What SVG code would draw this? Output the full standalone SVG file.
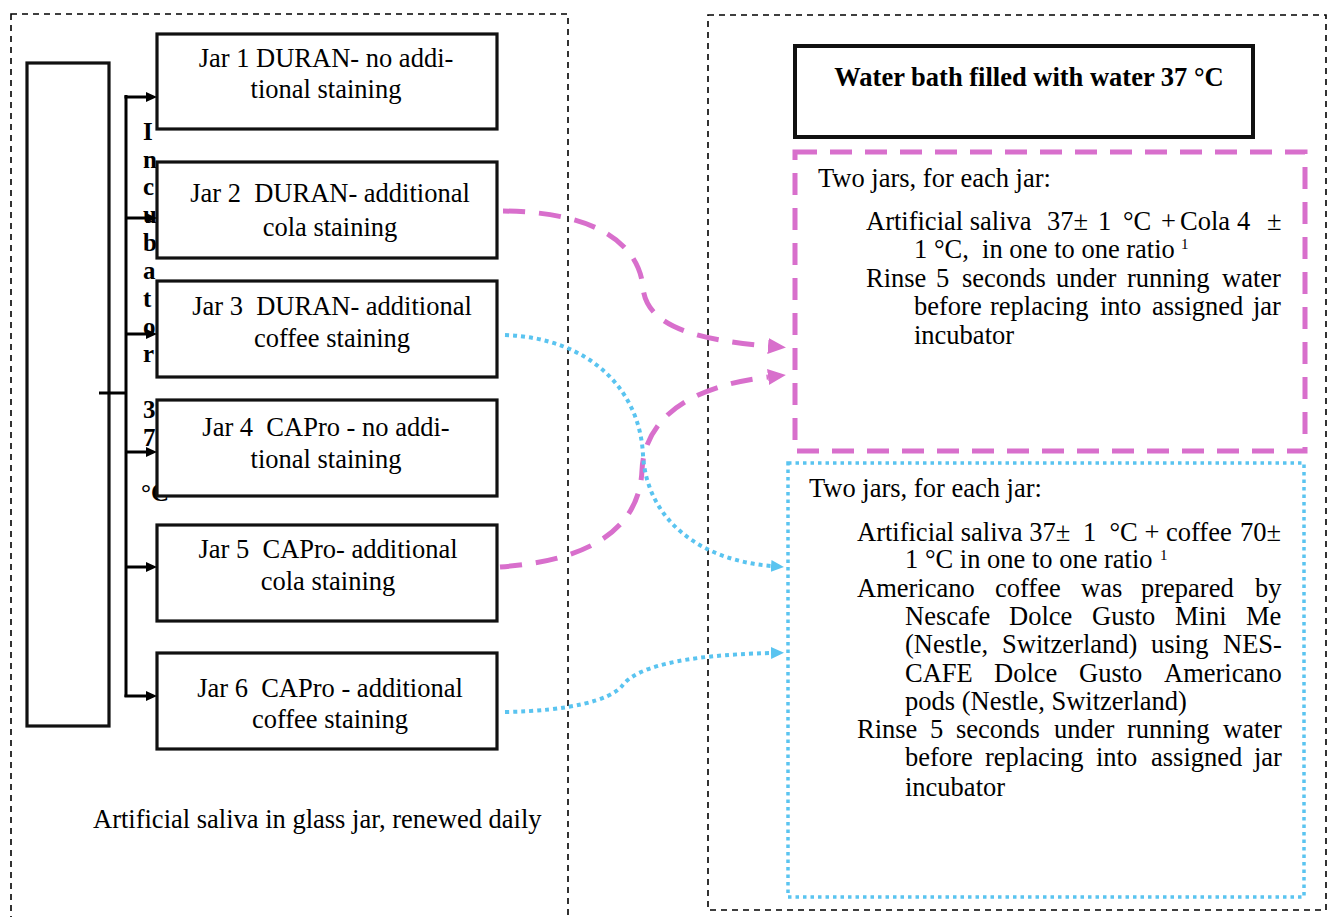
<svg xmlns="http://www.w3.org/2000/svg" width="1328" height="917" viewBox="0 0 1328 917">
<style>
.t{font-family:"Liberation Serif","Times New Roman",serif;font-size:26.5px;fill:#000;white-space:pre}
.b{font-weight:bold}
.c{text-anchor:middle}
.sup{font-size:15px}
.outer{fill:none;stroke:#000;stroke-width:1.6;stroke-dasharray:6 5}
.box{fill:#fff;stroke:#111;stroke-width:3.2}
.pink{fill:none;stroke:#d86fcc;stroke-width:5;stroke-dasharray:22 14}
.blue{fill:none;stroke:#5ac4f0;stroke-width:4;stroke-dasharray:4 4}
.br{fill:none;stroke:#000;stroke-width:3}
</style>
<defs>
<marker id="ak" markerWidth="11" markerHeight="10" refX="0" refY="5" orient="auto" markerUnits="userSpaceOnUse"><path d="M0,0 L11,5 L0,10 z" fill="#000"/></marker>
<marker id="ap" markerWidth="18" markerHeight="18" refX="0" refY="9" orient="auto" markerUnits="userSpaceOnUse"><path d="M0,1 L18,9 L0,17 z" fill="#d86fcc"/></marker>
<marker id="ab" markerWidth="13" markerHeight="12" refX="0" refY="6" orient="auto" markerUnits="userSpaceOnUse"><path d="M0,0 L13,6 L0,12 z" fill="#5ac4f0"/></marker>
</defs>
<rect width="1328" height="917" fill="#fff"/>

<g id="incubator-area">
<rect class="outer" x="11" y="14" width="557" height="920"/>
<text class="t" x="93" y="828">Artificial saliva in glass jar, renewed daily</text>
</g>

<g id="water-bath-area">
<rect class="outer" x="708" y="15" width="618" height="895"/>
</g>

<g id="incubator">
<rect x="27" y="63" width="82" height="663" fill="none" stroke="#111" stroke-width="3.2"/>
<text class="t b" style="font-size:25px">
<tspan x="143" y="140">I</tspan><tspan x="143" y="168">n</tspan><tspan x="143" y="195">c</tspan><tspan x="143" y="223">u</tspan><tspan x="143" y="251">b</tspan><tspan x="143" y="279">a</tspan><tspan x="143" y="307">t</tspan><tspan x="143" y="335">o</tspan><tspan x="143" y="362">r</tspan><tspan x="143" y="418">3</tspan><tspan x="143" y="446">7</tspan><tspan x="141" y="501">°C</tspan>
</text>
</g>

<g id="jar1">
<rect class="box" x="157" y="34" width="340" height="95"/>
<text class="t c" x="326" y="67">Jar 1 DURAN- no addi-</text>
<text class="t c" x="326" y="98">tional staining</text>
</g>
<g id="jar2">
<rect class="box" x="157" y="162" width="340" height="96"/>
<text class="t c" x="330" y="202">Jar 2  DURAN- additional</text>
<text class="t c" x="330" y="236">cola staining</text>
</g>
<g id="jar3">
<rect class="box" x="157" y="281" width="340" height="96"/>
<text class="t c" x="332" y="315">Jar 3  DURAN- additional</text>
<text class="t c" x="332" y="347">coffee staining</text>
</g>
<g id="jar4">
<rect class="box" x="157" y="400" width="340" height="96"/>
<text class="t c" x="326" y="436">Jar 4  CAPro - no addi-</text>
<text class="t c" x="326" y="468">tional staining</text>
</g>
<g id="jar5">
<rect class="box" x="157" y="525" width="340" height="96"/>
<text class="t c" x="328" y="558">Jar 5  CAPro- additional</text>
<text class="t c" x="328" y="590">cola staining</text>
</g>
<g id="jar6">
<rect class="box" x="157" y="653" width="340" height="96"/>
<text class="t c" x="330" y="697">Jar 6  CAPro - additional</text>
<text class="t c" x="330" y="728">coffee staining</text>
</g>

<g id="water-bath">
<rect x="795" y="46" width="458" height="91" fill="#fff" stroke="#111" stroke-width="4"/>
<text class="t b c" x="1029" y="86">Water bath filled with water 37 °C</text>
</g>

<g id="cola-group">
<rect x="795" y="152" width="510" height="299" fill="none" stroke="#d86fcc" stroke-width="5" stroke-dasharray="22 13"/>
<text class="t" x="818" y="187">Two jars, for each jar:</text>
<text class="t" y="230"><tspan x="866">Artificial saliva</tspan><tspan x="1047">37±</tspan><tspan x="1098">1</tspan><tspan x="1123">°C</tspan><tspan x="1161">+</tspan><tspan x="1180">Cola</tspan><tspan x="1237">4</tspan><tspan x="1267">±</tspan></text>
<text class="t" x="914" y="258">1 °C,  in one to one ratio</text>
<text class="t sup" x="1181" y="249">1</text>
<text class="t" y="287"><tspan x="866">Rinse</tspan><tspan x="936">5</tspan><tspan x="962">seconds</tspan><tspan x="1056">under</tspan><tspan x="1127">running</tspan><tspan x="1222">water</tspan></text>
<text class="t" y="315"><tspan x="914">before</tspan><tspan x="990">replacing</tspan><tspan x="1100">into</tspan><tspan x="1152">assigned</tspan><tspan x="1253">jar</tspan></text>
<text class="t" x="914" y="344">incubator</text>
</g>

<g id="coffee-group">
<rect x="788" y="463" width="516" height="434" fill="none" stroke="#5ac4f0" stroke-width="3.5" stroke-dasharray="3.5 4"/>
<text class="t" x="809" y="497">Two jars, for each jar:</text>
<text class="t" y="541"><tspan x="857">Artificial saliva 37±</tspan><tspan x="1083">1  °C + coffee</tspan><tspan x="1240">70±</tspan></text>
<text class="t" x="905" y="568">1 °C in one to one ratio</text>
<text class="t sup" x="1160" y="560">1</text>
<text class="t" y="597"><tspan x="857">Americano</tspan><tspan x="995">coffee</tspan><tspan x="1081">was</tspan><tspan x="1141">prepared</tspan><tspan x="1255">by</tspan></text>
<text class="t" y="625"><tspan x="905">Nescafe</tspan><tspan x="1009">Dolce</tspan><tspan x="1092">Gusto</tspan><tspan x="1175">Mini</tspan><tspan x="1246">Me</tspan></text>
<text class="t" y="653"><tspan x="905">(Nestle,</tspan><tspan x="1002">Switzerland)</tspan><tspan x="1151">using</tspan><tspan x="1223">NES-</tspan></text>
<text class="t" y="682"><tspan x="905">CAFE</tspan><tspan x="994">Dolce</tspan><tspan x="1079">Gusto</tspan><tspan x="1164">Americano</tspan></text>
<text class="t" x="905" y="710">pods (Nestle, Switzerland)</text>
<text class="t" y="738"><tspan x="857">Rinse</tspan><tspan x="930">5</tspan><tspan x="956">seconds</tspan><tspan x="1054">under</tspan><tspan x="1127">running</tspan><tspan x="1223">water</tspan></text>
<text class="t" y="766"><tspan x="905">before</tspan><tspan x="985">replacing</tspan><tspan x="1096">into</tspan><tspan x="1151">assigned</tspan><tspan x="1254">jar</tspan></text>
<text class="t" x="905" y="796">incubator</text>
</g>

<g id="connectors">
<line class="br" x1="126" y1="95" x2="126" y2="697"/>
<line class="br" x1="99" y1="393" x2="126" y2="393"/>
<line class="br" x1="124.5" y1="97" x2="146" y2="97" marker-end="url(#ak)"/>
<line class="br" x1="126" y1="218" x2="146" y2="218" marker-end="url(#ak)"/>
<line class="br" x1="126" y1="334" x2="146" y2="334" marker-end="url(#ak)"/>
<line class="br" x1="126" y1="452" x2="146" y2="452" marker-end="url(#ak)"/>
<line class="br" x1="126" y1="567" x2="146" y2="567" marker-end="url(#ak)"/>
<line class="br" x1="124.5" y1="696" x2="146" y2="696" marker-end="url(#ak)"/>
<path class="pink" d="M 503 211 C 605 212, 640 250, 643 288 C 647 328, 700 340, 768 346" marker-end="url(#ap)"/>
<path class="pink" d="M 500 567 C 600 560, 640 522, 642 470 C 645 412, 700 385, 768 377" marker-end="url(#ap)"/>
<path class="blue" d="M 505 335 C 590 338, 640 390, 643 455 C 647 520, 700 560, 771 566" marker-end="url(#ab)"/>
<path class="blue" d="M 505 712 C 570 711, 610 700, 622 686 C 635 668, 680 655, 771 653" marker-end="url(#ab)"/>
</g>
</svg>
